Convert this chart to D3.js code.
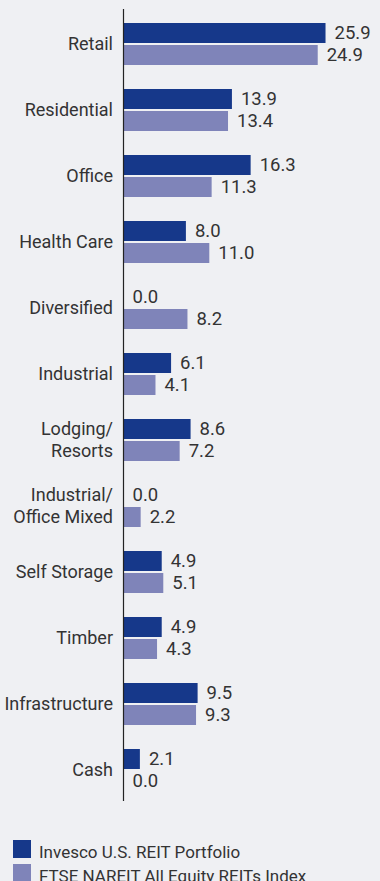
<!DOCTYPE html>
<html>
<head>
<meta charset="utf-8">
<script src="https://cdn.jsdelivr.net/npm/d3@7"></script>
<style>
body { margin: 0; background: #eff0f3; }
svg { display: block; font-family: Roboto, "Noto Sans", sans-serif; }
</style>
</head>
<body>
<svg id="chart" width="380" height="881"></svg>
<script>
// sector weights (%)
var categories = ["Retail", "Residential", "Office", "Health Care", "Diversified", "Industrial",
  "Lodging/\nResorts", "Industrial/\nOffice Mixed", "Self Storage", "Timber", "Infrastructure", "Cash"];
var portfolio = [25.9, 13.9, 16.3, 8.0, 0.0, 6.1, 8.6, 0.0, 4.9, 4.9, 9.5, 2.1];
var index = [24.9, 13.4, 11.3, 11.0, 8.2, 4.1, 7.2, 2.2, 5.1, 4.3, 9.3, 0.0];
var seriesNames = ["Invesco U.S. REIT Portfolio", "FTSE NAREIT All Equity REITs Index"];
var colors = ["#16388a", "#7f84b9"];

var svg = d3.select("#chart");

var x0 = 123.5;
var x = d3.scaleLinear().domain([0, 30]).range([x0, x0 + 234]);

var y = d3.scaleBand()
  .domain(categories)
  .range([11, 11 + 12 * 66])
  .paddingInner(24 / 66)
  .paddingOuter(12 / 66);

var ySub = d3.scaleBand().domain([0, 1]).range([0, y.bandwidth()]).paddingInner(2 / 22);

var rows = categories.map(function(c, i) {
  return { cat: c, vals: [portfolio[i], index[i]] };
});

var g = svg.selectAll("g.row")
  .data(rows)
  .enter()
  .append("g")
  .attr("class", "row")
  .attr("transform", function(d) { return "translate(0," + y(d.cat) + ")"; });

g.selectAll("rect")
  .data(function(d) { return d.vals; })
  .enter()
  .append("rect")
  .attr("x", x(0))
  .attr("y", function(d, i) { return ySub(i); })
  .attr("width", function(d) { return x(d) - x(0); })
  .attr("height", ySub.bandwidth())
  .style("fill", function(d, i) { return colors[i]; });

// value labels
g.selectAll("text.val")
  .data(function(d) { return d.vals; })
  .enter()
  .append("text")
  .attr("class", "val")
  .attr("x", function(d) { return x(d) + 9; })
  .attr("y", function(d, i) { return ySub(i) + ySub.bandwidth() / 2; })
  .attr("dy", "0.35em")
  .style("font-size", "18.5px")
  .style("fill", "#333")
  .text(function(d) { return d.toFixed(1); });

// category labels
g.each(function(d) {
  var lines = d.cat.split("\n");
  var t = d3.select(this).append("text")
    .attr("text-anchor", "end")
    .style("font-size", "18px")
    .style("fill", "#333");
  lines.forEach(function(l, j) {
    var cy = lines.length == 1 ? y.bandwidth() / 2 : ySub(j) + ySub.bandwidth() / 2;
    t.append("tspan")
      .attr("x", 113)
      .attr("y", cy)
      .attr("dy", "0.35em")
      .text(l);
  });
});

// axis line
svg.append("line")
  .attr("x1", x0).attr("x2", x0)
  .attr("y1", 9).attr("y2", 801)
  .style("stroke", "#222")
  .style("stroke-width", 1.2);

// legend
var leg = svg.selectAll("g.leg")
  .data(seriesNames)
  .enter()
  .append("g")
  .attr("class", "leg")
  .attr("transform", function(d, i) { return "translate(13," + (840 + i * 24) + ")"; });

leg.append("rect")
  .attr("width", 18).attr("height", 18)
  .style("fill", function(d, i) { return colors[i]; });

leg.append("text")
  .attr("x", 26).attr("y", 17.5)
  .style("font-size", "17px")
  .style("fill", "#333")
  .text(function(d) { return d; });
</script>
</body>
</html>
